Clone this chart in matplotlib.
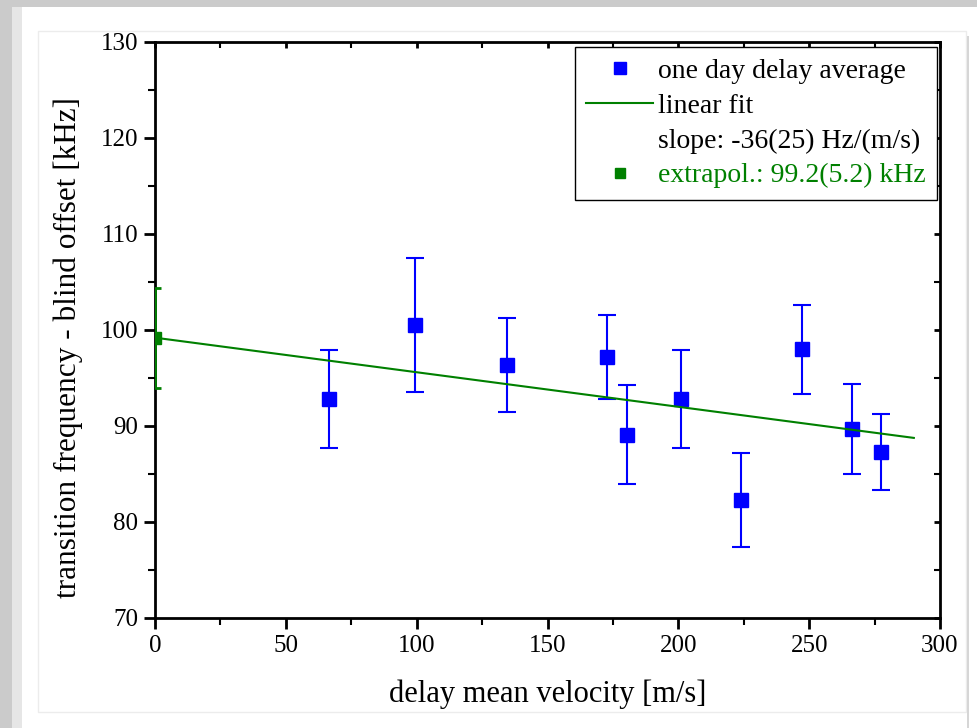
import matplotlib
matplotlib.use("Agg")
import matplotlib.pyplot as plt
from matplotlib.patches import Rectangle
from matplotlib.lines import Line2D
import numpy as np

# one-day delay averages
velocity = [66.5, 99.4, 134.5, 172.9, 180.4, 201.0, 224.1, 247.3, 266.2, 277.3]
freq = [92.8, 100.5, 96.4, 97.2, 89.1, 92.8, 82.3, 98.0, 89.7, 87.3]
freq_err = [5.1, 6.95, 4.9, 4.4, 5.15, 5.1, 4.9, 4.65, 4.7, 4.0]

# linear fit: slope in kHz/(m/s), intercept (extrapolation to v = 0) in kHz
fit_slope = -0.036
fit_intercept = 99.2
fit_intercept_err = 5.2
fit_v_range = [0.0, 290.0]

x_ticks = [0, 50, 100, 150, 200, 250, 300]
y_ticks = [70, 80, 90, 100, 110, 120, 130]

BLUE = "#0000ff"
GREEN = "#008000"

plt.rcParams["font.family"] = ["Liberation Serif", "DejaVu Serif"]

W, H = 977, 728
fig = plt.figure(figsize=(W / 100, H / 100), dpi=100, facecolor="white")

# page background: grey bands and a faint frame
def fig_rect(x0, y0, x1, y1, **kw):
    fig.patches.append(Rectangle((x0 / W, 1 - y1 / H), (x1 - x0) / W, (y1 - y0) / H,
                                 transform=fig.transFigure, figure=fig, **kw))

fig_rect(0, 0, W, 7, facecolor="#cbcbcb", edgecolor="none")
fig_rect(0, 0, 12, H, facecolor="#cbcbcb", edgecolor="none")
fig_rect(12, 7, 22, H, facecolor="#e6e6e6", edgecolor="none")
fig_rect(38, 31, 966, 712, facecolor="none", edgecolor="#ececec", linewidth=1.0)
fig_rect(967, 36, 969, H, facecolor="#d6d6d6", edgecolor="none")

ax = fig.add_axes([155 / W, 1 - 618 / H, 785 / W, 576 / H])

ax.errorbar(velocity, freq, yerr=freq_err, fmt="s", color=BLUE, ecolor=BLUE,
            markersize=10, elinewidth=1.5, capsize=6.5, capthick=1.5, zorder=3)

v_fit = np.array(fit_v_range)
ax.plot(v_fit, fit_intercept + fit_slope * v_fit, color=GREEN, linewidth=1.5, zorder=4)

ax.errorbar([0.0], [fit_intercept], yerr=[fit_intercept_err], fmt="s", color=GREEN,
            ecolor=GREEN, markersize=8, elinewidth=2.0, capsize=4, capthick=2.0, zorder=5)

ax.set_xlim(0, 300)
ax.set_ylim(70, 130)
ax.set_xticks(x_ticks)
ax.set_yticks(y_ticks)
ax.set_xticks(np.arange(25, 300, 50), minor=True)
ax.set_yticks(np.arange(75, 130, 10), minor=True)

for s in ax.spines.values():
    s.set_linewidth(2.0)
ax.tick_params(axis="both", which="major", direction="out", length=8, width=2,
               labelsize=18, pad=4)
ax.tick_params(axis="both", which="minor", direction="out", length=5, width=1.5)
ax.tick_params(top=True, right=True, which="both")
for t in ax.xaxis.get_major_ticks() + ax.xaxis.get_minor_ticks():
    t.tick2line.set_marker(matplotlib.lines.TICKDOWN)
    t.tick2line.set_markersize(4)
for t in ax.yaxis.get_major_ticks() + ax.yaxis.get_minor_ticks():
    t.tick2line.set_marker(matplotlib.lines.TICKLEFT)
    t.tick2line.set_markersize(4)

ax.set_xlabel("delay mean velocity [m/s]", fontsize=22)
ax.set_ylabel("transition frequency - blind offset [kHz]", fontsize=22.5)
ax.xaxis.set_label_coords(0.5, -0.106)
ax.yaxis.set_label_coords(-0.092, 0.469)

handles = [
    Line2D([], [], linestyle="none", marker="s", color=BLUE, markersize=9),
    Line2D([], [], color=GREEN, linewidth=1.5),
    Line2D([], [], linestyle="none"),
    Line2D([], [], linestyle="none", marker="s", color=GREEN, markersize=7),
]
labels = ["one day delay average", "linear fit", "slope: -36(25) Hz/(m/s)",
          "extrapol.: 99.2(5.2) kHz"]
leg = ax.legend(handles, labels, loc="upper right", bbox_to_anchor=(0.996, 0.991),
                fontsize=20, frameon=True, fancybox=False, framealpha=1,
                edgecolor="black", borderpad=0.4, labelspacing=0.34,
                handlelength=2.4, handletextpad=0.18, borderaxespad=0)
leg.get_frame().set_linewidth(1.0)
leg.get_texts()[3].set_color(GREEN)

fig.savefig("out.png", dpi=100, facecolor="white")
